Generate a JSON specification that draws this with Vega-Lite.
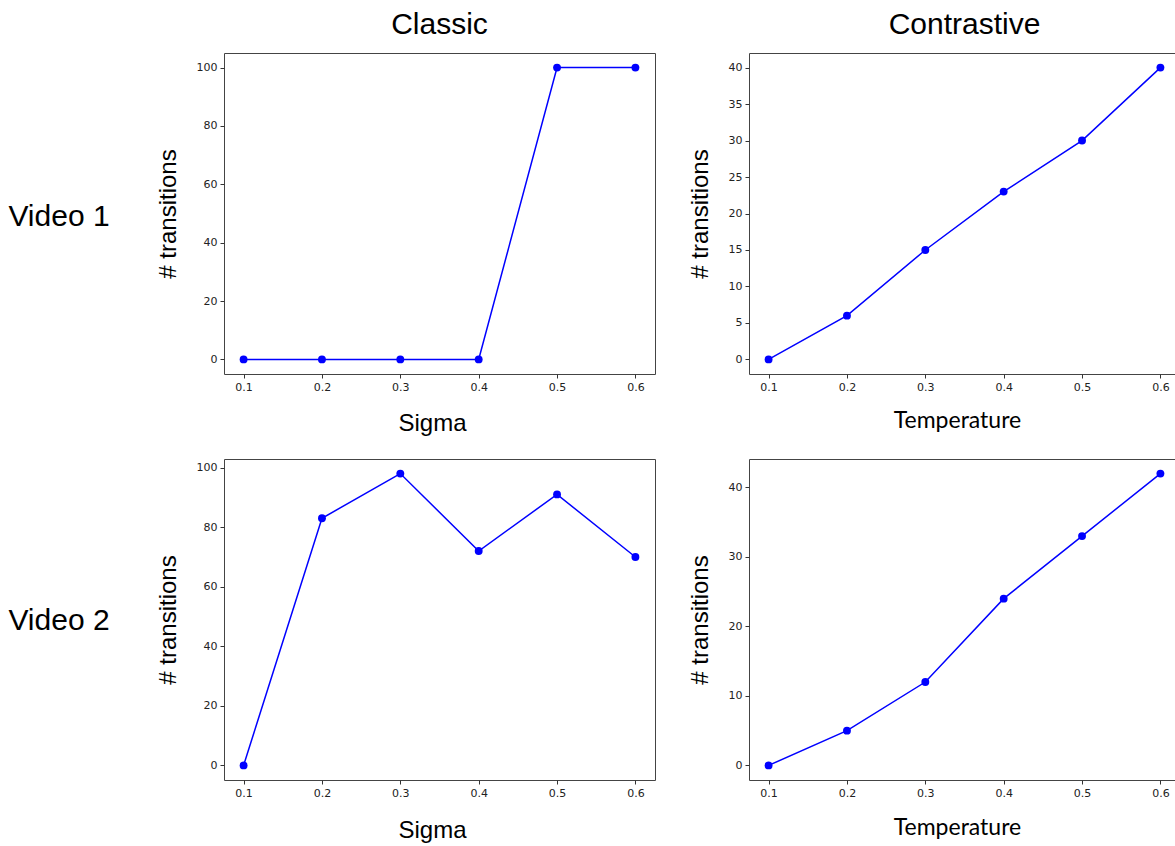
{
  "$schema": "https://vega.github.io/schema/vega-lite/v6.json",
  "background": "white",
  "padding": {"left": 0, "top": 9, "right": 0, "bottom": 5},
  "datasets": {
    "d": [
      {"video": "Video 1", "method": "Classic", "param": 0.1, "transitions": 0},
      {"video": "Video 1", "method": "Classic", "param": 0.2, "transitions": 0},
      {"video": "Video 1", "method": "Classic", "param": 0.3, "transitions": 0},
      {"video": "Video 1", "method": "Classic", "param": 0.4, "transitions": 0},
      {"video": "Video 1", "method": "Classic", "param": 0.5, "transitions": 100},
      {"video": "Video 1", "method": "Classic", "param": 0.6, "transitions": 100},
      {"video": "Video 1", "method": "Contrastive", "param": 0.1, "transitions": 0},
      {"video": "Video 1", "method": "Contrastive", "param": 0.2, "transitions": 6},
      {"video": "Video 1", "method": "Contrastive", "param": 0.3, "transitions": 15},
      {"video": "Video 1", "method": "Contrastive", "param": 0.4, "transitions": 23},
      {"video": "Video 1", "method": "Contrastive", "param": 0.5, "transitions": 30},
      {"video": "Video 1", "method": "Contrastive", "param": 0.6, "transitions": 40},
      {"video": "Video 2", "method": "Classic", "param": 0.1, "transitions": 0},
      {"video": "Video 2", "method": "Classic", "param": 0.2, "transitions": 83},
      {"video": "Video 2", "method": "Classic", "param": 0.3, "transitions": 98},
      {"video": "Video 2", "method": "Classic", "param": 0.4, "transitions": 72},
      {"video": "Video 2", "method": "Classic", "param": 0.5, "transitions": 91},
      {"video": "Video 2", "method": "Classic", "param": 0.6, "transitions": 70},
      {"video": "Video 2", "method": "Contrastive", "param": 0.1, "transitions": 0},
      {"video": "Video 2", "method": "Contrastive", "param": 0.2, "transitions": 5},
      {"video": "Video 2", "method": "Contrastive", "param": 0.3, "transitions": 12},
      {"video": "Video 2", "method": "Contrastive", "param": 0.4, "transitions": 24},
      {"video": "Video 2", "method": "Contrastive", "param": 0.5, "transitions": 33},
      {"video": "Video 2", "method": "Contrastive", "param": 0.6, "transitions": 42}
    ],
    "rows": [
      {"label": "Video 1"},
      {"label": "Video 2"}
    ]
  },
  "columns": 3,
  "spacing": {"row": 85, "column": 94},
  "bounds": "flush",
  "concat": [
    {
      "width": 130, "height": 321,
      "view": {"stroke": null},
      "data": {"name": "rows"},
      "transform": [{"filter": "datum.label == 'Video 1'"}],
      "mark": {"type": "text", "font": "Liberation Sans", "fontSize": 30, "color": "black", "dx": -6, "dy": 3},
      "encoding": {"text": {"field": "label"}}
    },
    {
      "width": 431, "height": 321,
      "data": {"name": "d"},
      "title": {"text": "Classic"},
      "transform": [{"filter": "datum.video == 'Video 1' && datum.method == 'Classic'"}],
      "mark": {"type": "line", "color": "#0000ff", "strokeWidth": 1.5, "point": {"filled": true, "size": 62, "color": "#0000ff", "opacity": 1}},
      "encoding": {
        "x": {"field": "param", "type": "quantitative", "scale": {"domain": [0.075, 0.625], "nice": false, "zero": false},
              "axis": {"title": "Sigma", "values": [0.1, 0.2, 0.3, 0.4, 0.5, 0.6], "format": ".1f", "titleX": 208, "titlePadding": 19}},
        "y": {"field": "transitions", "type": "quantitative", "scale": {"domain": [-5, 105], "nice": false, "zero": false},
              "axis": {"title": "# transitions", "values": [0, 20, 40, 60, 80, 100]}}
      }
    },
    {
      "width": 431, "height": 321,
      "data": {"name": "d"},
      "title": {"text": "Contrastive"},
      "transform": [{"filter": "datum.video == 'Video 1' && datum.method == 'Contrastive'"}],
      "mark": {"type": "line", "color": "#0000ff", "strokeWidth": 1.5, "point": {"filled": true, "size": 62, "color": "#0000ff", "opacity": 1}},
      "encoding": {
        "x": {"field": "param", "type": "quantitative", "scale": {"domain": [0.075, 0.625], "nice": false, "zero": false},
              "axis": {"title": "Temperature", "titleFont": "Lato", "titleFontSize": 23, "values": [0.1, 0.2, 0.3, 0.4, 0.5, 0.6], "format": ".1f", "titleX": 208, "titlePadding": 17}},
        "y": {"field": "transitions", "type": "quantitative", "scale": {"domain": [-2, 42], "nice": false, "zero": false},
              "axis": {"title": "# transitions", "values": [0, 5, 10, 15, 20, 25, 30, 35, 40]}}
      }
    },
    {
      "width": 130, "height": 321,
      "view": {"stroke": null},
      "data": {"name": "rows"},
      "transform": [{"filter": "datum.label == 'Video 2'"}],
      "mark": {"type": "text", "font": "Liberation Sans", "fontSize": 30, "color": "black", "dx": -6, "dy": 1},
      "encoding": {"text": {"field": "label"}}
    },
    {
      "width": 431, "height": 321,
      "data": {"name": "d"},
      "transform": [{"filter": "datum.video == 'Video 2' && datum.method == 'Classic'"}],
      "mark": {"type": "line", "color": "#0000ff", "strokeWidth": 1.5, "point": {"filled": true, "size": 62, "color": "#0000ff", "opacity": 1}},
      "encoding": {
        "x": {"field": "param", "type": "quantitative", "scale": {"domain": [0.075, 0.625], "nice": false, "zero": false},
              "axis": {"title": "Sigma", "values": [0.1, 0.2, 0.3, 0.4, 0.5, 0.6], "format": ".1f", "titleX": 208, "titlePadding": 20}},
        "y": {"field": "transitions", "type": "quantitative", "scale": {"domain": [-4.9, 102.9], "nice": false, "zero": false},
              "axis": {"title": "# transitions", "values": [0, 20, 40, 60, 80, 100]}}
      }
    },
    {
      "width": 431, "height": 321,
      "data": {"name": "d"},
      "transform": [{"filter": "datum.video == 'Video 2' && datum.method == 'Contrastive'"}],
      "mark": {"type": "line", "color": "#0000ff", "strokeWidth": 1.5, "point": {"filled": true, "size": 62, "color": "#0000ff", "opacity": 1}},
      "encoding": {
        "x": {"field": "param", "type": "quantitative", "scale": {"domain": [0.075, 0.625], "nice": false, "zero": false},
              "axis": {"title": "Temperature", "titleFont": "Lato", "titleFontSize": 23, "values": [0.1, 0.2, 0.3, 0.4, 0.5, 0.6], "format": ".1f", "titleX": 208, "titlePadding": 18}},
        "y": {"field": "transitions", "type": "quantitative", "scale": {"domain": [-2.1, 44.1], "nice": false, "zero": false},
              "axis": {"title": "# transitions", "values": [0, 10, 20, 30, 40]}}
      }
    }
  ],
  "config": {
    "view": {"stroke": "#444", "strokeWidth": 1},
    "title": {"font": "Liberation Sans", "fontSize": 30, "fontWeight": "normal", "color": "black", "offset": 13, "anchor": "middle"},
    "axis": {
      "domain": false,
      "grid": false,
      "labelFont": "DejaVu Sans",
      "labelFontSize": 11,
      "labelColor": "#222",
      "labelFlush": false,
      "labelPadding": 3,
      "tickColor": "#333",
      "tickSize": 4,
      "titleFont": "Liberation Sans",
      "titleFontSize": 24,
      "titleFontWeight": "normal",
      "titleColor": "black",
      "titlePadding": 16
    }
  }
}
